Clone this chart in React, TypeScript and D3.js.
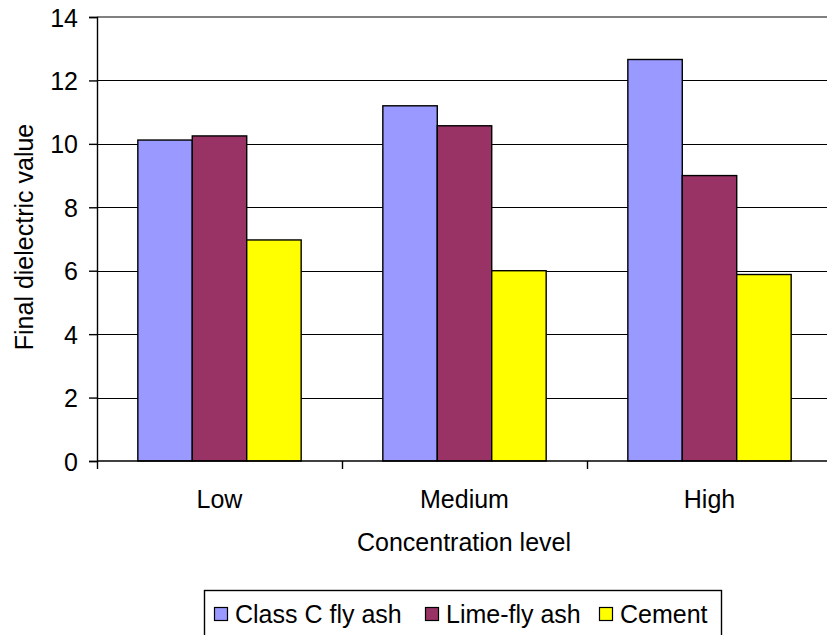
import React from 'react'
import * as d3 from 'd3'

const categories = ['Low', 'Medium', 'High']
const seriesNames = ['Class C fly ash', 'Lime-fly ash', 'Cement']
const classC = [10.12, 11.2, 12.66]
const limeFly = [10.25, 10.57, 9.0]
const cement = [6.97, 6.0, 5.88]
const yTicks = [0, 2, 4, 6, 8, 10, 12, 14]
const colors = ['#9999FF', '#993366', '#FFFF00']

const W = 827
const H = 635
const FONT = 'Liberation Sans, Arial, sans-serif'
const FS = 25

const App = () => {
  const svgRef = React.useRef(null)

  React.useEffect(() => {
    const left = 97
    const right = 832
    const top = 17
    const bottom = 461
    const series = [classC, limeFly, cement]

    const x = d3.scaleBand().domain(categories).range([left, left + 245 * 3])
    const inner = d3
      .scaleBand()
      .domain(seriesNames)
      .range([0, x.bandwidth()])
      .paddingInner(0)
      .paddingOuter(0.75)
    const y = d3.scaleLinear().domain([0, 14]).range([bottom, top])

    const svgEl = d3.select(svgRef.current)
    svgEl.selectAll('*').remove()
    const svg = svgEl.append('g')

    // plot area border on top, gray
    svg
      .append('line')
      .attr('x1', left)
      .attr('x2', right)
      .attr('y1', y(14))
      .attr('y2', y(14))
      .attr('stroke', '#808080')
      .attr('stroke-width', 2)

    // gridlines
    svg
      .selectAll('.grid')
      .data(yTicks.filter((t) => t > 0 && t < 14))
      .enter()
      .append('line')
      .attr('x1', left)
      .attr('x2', right)
      .attr('y1', (d) => Math.round(y(d)) + 0.5)
      .attr('y2', (d) => Math.round(y(d)) + 0.5)
      .attr('stroke', '#000')
      .attr('stroke-width', 1.2)

    // bars
    series.forEach((vals, si) => {
      svg
        .selectAll(`.bar${si}`)
        .data(vals)
        .enter()
        .append('rect')
        .attr('x', (d, i) => x(categories[i]) + inner(seriesNames[si]))
        .attr('y', (d) => y(d))
        .attr('width', inner.bandwidth())
        .attr('height', (d) => bottom - y(d))
        .attr('fill', colors[si])
        .attr('stroke', '#000')
        .attr('stroke-width', 1.4)
    })

    // y axis
    const yAxis = d3
      .axisLeft(y)
      .tickValues(yTicks)
      .tickSize(8)
      .tickPadding(11)
    const yg = svg.append('g').attr('transform', `translate(${left},0)`).call(yAxis)
    yg.attr('font-family', FONT).attr('font-size', FS)
    yg.select('.domain').attr('stroke', '#000').attr('stroke-width', 1.4)
    yg.selectAll('line').attr('stroke', '#000').attr('stroke-width', 1.4)
    yg.selectAll('text').attr('fill', '#000').attr('dy', '0.36em')

    // x axis
    svg
      .append('line')
      .attr('x1', left)
      .attr('x2', right)
      .attr('y1', bottom)
      .attr('y2', bottom)
      .attr('stroke', '#000')
      .attr('stroke-width', 1.4)
    svg
      .selectAll('.xtick')
      .data(categories)
      .enter()
      .append('line')
      .attr('x1', (d) => Math.round(x(d)) + 0.5)
      .attr('x2', (d) => Math.round(x(d)) + 0.5)
      .attr('y1', bottom)
      .attr('y2', bottom + 8)
      .attr('stroke', '#000')
      .attr('stroke-width', 1.4)
    svg
      .selectAll('.xlab')
      .data(categories)
      .enter()
      .append('text')
      .attr('x', (d) => x(d) + x.bandwidth() / 2)
      .attr('y', 508)
      .attr('text-anchor', 'middle')
      .attr('font-family', FONT)
      .attr('font-size', FS)
      .text((d) => d)

    // axis titles
    svg
      .append('text')
      .attr('x', 464)
      .attr('y', 551)
      .attr('text-anchor', 'middle')
      .attr('font-family', FONT)
      .attr('font-size', FS)
      .text('Concentration level')
    svg
      .append('text')
      .attr('transform', `translate(33,237) rotate(-90)`)
      .attr('text-anchor', 'middle')
      .attr('font-family', FONT)
      .attr('font-size', FS)
      .text('Final dielectric value')

    // legend
    const lg = svg.append('g')
    lg.append('rect')
      .attr('x', 204.5)
      .attr('y', 590.5)
      .attr('width', 517)
      .attr('height', 60)
      .attr('fill', '#fff')
      .attr('stroke', '#000')
      .attr('stroke-width', 1.4)
    const itemX = [214, 425, 599]
    seriesNames.forEach((name, i) => {
      lg.append('rect')
        .attr('x', itemX[i] + 0.5)
        .attr('y', 607.5)
        .attr('width', 13)
        .attr('height', 13)
        .attr('fill', colors[i])
        .attr('stroke', '#000')
        .attr('stroke-width', 1.2)
      lg.append('text')
        .attr('x', itemX[i] + 21)
        .attr('y', 623)
        .attr('font-family', FONT)
        .attr('font-size', FS)
        .text(name)
    })
  }, [])

  return (
    <svg
      ref={svgRef}
      width={W}
      height={H}
      style={{ position: 'absolute', left: 0, top: 0, background: '#fff' }}
    />
  )
}

export default App
